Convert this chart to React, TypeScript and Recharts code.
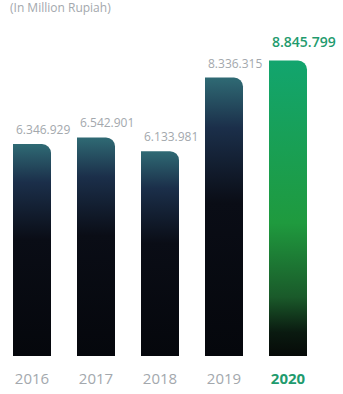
import React from 'react';
import { BarChart, Bar, XAxis, YAxis, Cell, LabelList } from 'recharts';

const years = ['2016', '2017', '2018', '2019', '2020'];
const assets = [6346929, 6542901, 6133981, 8336315, 8845799];

const data = years.map((year, i) => ({ year, value: assets[i] }));

const GREY = '#a3a8ad';
const GREEN = '#1f9b6e';
const FONT = '"Open Sans", sans-serif';

const fmt = (v: number) => v.toLocaleString('de-DE');

const ValueLabel = (props: any) => {
  const { x, y, value, index } = props;
  const last = index === data.length - 1;
  return (
    <text
      x={x + 3}
      y={y - (last ? 14 : 10)}
      textAnchor="start"
      fill={last ? GREEN : GREY}
      fontSize={last ? 14 : 12}
      fontWeight={last ? 600 : 400}
      fontFamily={FONT}
    >
      {fmt(value)}
    </text>
  );
};

const YearTick = (props: any) => {
  const { x, y, payload } = props;
  const last = payload.value === years[years.length - 1];
  return (
    <text
      x={x}
      y={y}
      dy={20}
      textAnchor="middle"
      fill={last ? GREEN : GREY}
      fontSize={15}
      fontWeight={last ? 700 : 400}
      fontFamily={FONT}
    >
      {payload.value}
    </text>
  );
};

export default function App() {
  return (
    <div style={{ position: 'relative', width: 343, height: 394, background: '#fff' }}>
      <style>{'body { margin: 0; }'}</style>
      <BarChart width={343} height={394} data={data} margin={{ top: 22, right: 23, left: 0, bottom: 0 }}>
        <defs>
          <linearGradient id="darkFill" x1="0" y1="0" x2="0" y2="1">
            <stop offset="0%" stopColor="#2f6a74" />
            <stop offset="18%" stopColor="#1b2f4a" />
            <stop offset="45%" stopColor="#0a0d16" />
            <stop offset="100%" stopColor="#05070c" />
          </linearGradient>
          <linearGradient id="greenFill" x1="0" y1="0" x2="0" y2="1">
            <stop offset="0%" stopColor="#12a56e" />
            <stop offset="55%" stopColor="#1f9a3e" />
            <stop offset="80%" stopColor="#1a5a2a" />
            <stop offset="92%" stopColor="#0a1a10" />
            <stop offset="100%" stopColor="#060a08" />
          </linearGradient>
        </defs>
        <XAxis
          dataKey="year"
          axisLine={false}
          tickLine={false}
          height={38}
          tick={<YearTick />}
          interval={0}
        />
        <YAxis hide domain={[0, 10000000]} />
        <Bar dataKey="value" barSize={38} radius={[0, 9, 0, 0]} isAnimationActive={false}>
          {data.map((d, i) => (
            <Cell key={d.year} fill={i === data.length - 1 ? 'url(#greenFill)' : 'url(#darkFill)'} />
          ))}
          <LabelList dataKey="value" content={<ValueLabel />} />
        </Bar>
      </BarChart>
      <div
        style={{
          position: 'absolute',
          left: 10,
          top: 1,
          fontSize: 12,
          lineHeight: '14px',
          color: GREY,
          fontFamily: FONT,
          zIndex: 2,
        }}
      >
        (In Million Rupiah)
      </div>
    </div>
  );
}
